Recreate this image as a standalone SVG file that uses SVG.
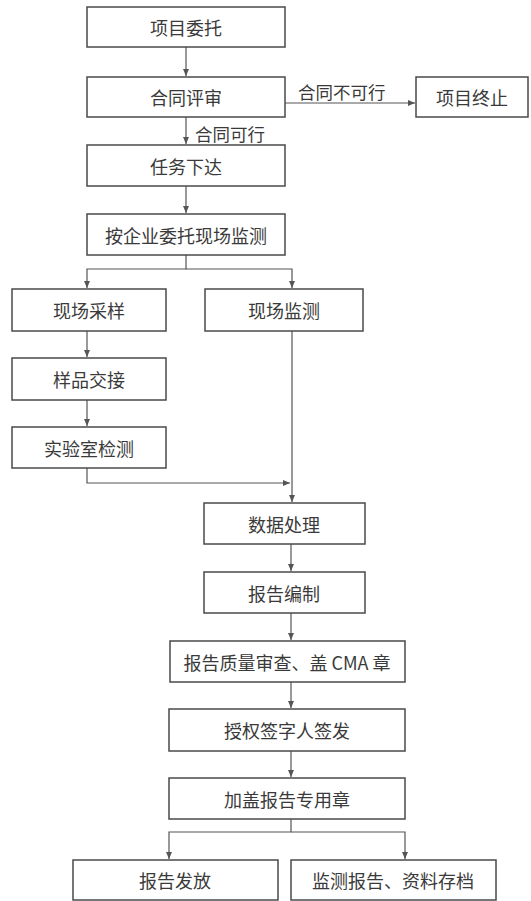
<svg xmlns="http://www.w3.org/2000/svg" width="531" height="901" viewBox="0 0 531 901">
<style>
.box{fill:#fff;stroke:#4a4a4a;stroke-width:1.5}
.t{font-family:"Noto Sans CJK SC","Noto Sans",sans-serif;font-size:18px;fill:#3a3a3a;text-anchor:middle;dominant-baseline:central}
.lbl{font-family:"Noto Sans CJK SC","Noto Sans",sans-serif;font-size:17.5px;fill:#3a3a3a;dominant-baseline:central}
.c{fill:none;stroke:#555;stroke-width:1.2}
</style>
<defs>
<marker id="ah" markerWidth="8" markerHeight="8" refX="7" refY="4" orient="auto" markerUnits="userSpaceOnUse">
<path d="M0,1 L7,4 L0,7 Z" fill="#555"/>
</marker>
</defs>
<rect width="531" height="901" fill="#fff"/>
<g id="connectors">
<path class="c" d="M186,47 V76" marker-end="url(#ah)"/>
<path class="c" d="M285,103 H415" marker-end="url(#ah)"/>
<path class="c" d="M186,117 V144" marker-end="url(#ah)"/>
<path class="c" d="M186,186 V213" marker-end="url(#ah)"/>
<path class="c" d="M186,255 V269 H87 V288" marker-end="url(#ah)"/>
<path class="c" d="M186,269 H292 V288" marker-end="url(#ah)"/>
<path class="c" d="M87,331 V357" marker-end="url(#ah)"/>
<path class="c" d="M87,400 V426" marker-end="url(#ah)"/>
<path class="c" d="M87,468 V483 H290" marker-end="url(#ah)"/>
<path class="c" d="M292,331 V502" marker-end="url(#ah)"/>
<path class="c" d="M291,544 V571" marker-end="url(#ah)"/>
<path class="c" d="M291,613 V640" marker-end="url(#ah)"/>
<path class="c" d="M291,682 V708" marker-end="url(#ah)"/>
<path class="c" d="M291,751 V777" marker-end="url(#ah)"/>
<path class="c" d="M291,819 V832 H169 V859" marker-end="url(#ah)"/>
<path class="c" d="M291,832 H405 V859" marker-end="url(#ah)"/>
</g>
<g id="edge-labels">
<text class="lbl" x="298" y="91">合同不可行</text>
<text class="lbl" x="195" y="133">合同可行</text>
</g>
<g id="n1"><rect class="box" x="87" y="7" width="198" height="40"/><text class="t" x="186" y="27">项目委托</text></g>
<g id="n2"><rect class="box" x="87" y="77" width="198" height="40"/><text class="t" x="186" y="97">合同评审</text></g>
<g id="n3"><rect class="box" x="416" y="77" width="112" height="40"/><text class="t" x="472" y="97">项目终止</text></g>
<g id="n4"><rect class="box" x="87" y="145" width="198" height="41"/><text class="t" x="186" y="166">任务下达</text></g>
<g id="n5"><rect class="box" x="87" y="214" width="198" height="41"/><text class="t" x="186" y="235">按企业委托现场监测</text></g>
<g id="n6"><rect class="box" x="12" y="289" width="154" height="42"/><text class="t" x="89" y="310">现场采样</text></g>
<g id="n7"><rect class="box" x="205" y="289" width="158" height="42"/><text class="t" x="284" y="310">现场监测</text></g>
<g id="n8"><rect class="box" x="12" y="358" width="154" height="42"/><text class="t" x="89" y="379">样品交接</text></g>
<g id="n9"><rect class="box" x="12" y="427" width="154" height="41"/><text class="t" x="89" y="448">实验室检测</text></g>
<g id="n10"><rect class="box" x="204" y="503" width="161" height="41"/><text class="t" x="284" y="524">数据处理</text></g>
<g id="n11"><rect class="box" x="204" y="572" width="161" height="41"/><text class="t" x="284" y="593">报告编制</text></g>
<g id="n12"><rect class="box" x="170" y="641" width="235" height="41"/><text class="t" x="287" y="662">报告质量审查、盖 CMA 章</text></g>
<g id="n13"><rect class="box" x="169" y="709" width="236" height="42"/><text class="t" x="287" y="730">授权签字人签发</text></g>
<g id="n14"><rect class="box" x="169" y="778" width="236" height="41"/><text class="t" x="287" y="799">加盖报告专用章</text></g>
<g id="n15"><rect class="box" x="73" y="860" width="205" height="40"/><text class="t" x="175" y="880">报告发放</text></g>
<g id="n16"><rect class="box" x="291" y="860" width="205" height="40"/><text class="t" x="393" y="880">监测报告、资料存档</text></g>
</svg>
